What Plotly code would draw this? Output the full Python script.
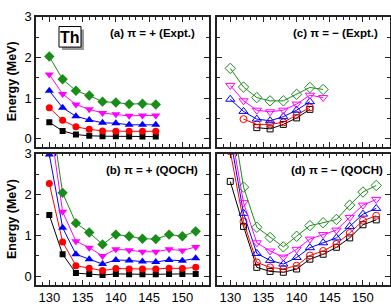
import plotly.graph_objects as go

# ---------------- data ----------------
x_a = [130, 132, 134, 136, 138, 140, 142, 144, 146]
a_black = [0.40, 0.19, 0.10, 0.07, 0.06, 0.06, 0.05, 0.05, 0.05]
a_red = [0.76, 0.45, 0.29, 0.23, 0.19, 0.18, 0.18, 0.18, 0.18]
a_blue = [1.18, 0.76, 0.55, 0.46, 0.39, 0.38, 0.34, 0.34, 0.34]
a_magenta = [1.58, 1.10, 0.84, 0.72, 0.63, 0.60, 0.56, 0.57, 0.57]
a_green = [2.02, 1.46, 1.18, 1.06, 0.91, 0.89, 0.85, 0.86, 0.84]

x_c_black = [134, 136, 138, 140, 142]
c_black = [0.27, 0.24, 0.35, 0.51, 0.72]
x_c_red = [132, 134, 136, 138, 140, 142]
c_red = [0.48, 0.35, 0.35, 0.40, 0.58, 0.77]
x_c_blue = [130, 132, 134, 136, 138, 140, 142]
c_blue = [0.97, 0.67, 0.48, 0.44, 0.54, 0.70, 0.91]
x_c_mg = [130, 132, 134, 136, 138, 140, 142, 144]
c_magenta = [1.31, 0.93, 0.70, 0.66, 0.70, 0.85, 1.07, 1.01]
c_green = [1.73, 1.27, 1.01, 0.93, 0.93, 1.09, 1.26, 1.21]

x_q = [130, 132, 134, 136, 138, 140, 142, 144, 146, 148, 150, 152]
b_black = [1.50, 0.54, 0.08, 0.06, 0.03, 0.06, 0.05, 0.05, 0.05, 0.06, 0.06, 0.06]
b_red = [2.27, 0.84, 0.26, 0.20, 0.14, 0.19, 0.18, 0.18, 0.18, 0.20, 0.19, 0.22]
b_blue = [2.98, 1.19, 0.54, 0.42, 0.30, 0.40, 0.39, 0.36, 0.35, 0.40, 0.38, 0.44]
b_magenta = [3.85, 1.58, 0.86, 0.70, 0.50, 0.66, 0.64, 0.60, 0.60, 0.66, 0.63, 0.72]
b_green = [4.25, 2.04, 1.30, 1.07, 0.78, 1.02, 0.98, 0.92, 0.91, 1.02, 0.98, 1.10]

d_black = [2.32, 1.22, 0.22, 0.12, 0.10, 0.18, 0.42, 0.54, 0.71, 0.94, 1.26, 1.38]
d_red = [3.05, 1.34, 0.34, 0.22, 0.18, 0.26, 0.51, 0.62, 0.79, 1.06, 1.36, 1.48]
d_blue = [3.40, 1.54, 0.56, 0.39, 0.30, 0.46, 0.70, 0.82, 0.94, 1.22, 1.52, 1.66]
d_magenta = [3.65, 1.80, 0.82, 0.62, 0.47, 0.66, 0.91, 1.02, 1.13, 1.44, 1.74, 1.88]
d_green = [4.20, 2.18, 1.20, 0.95, 0.72, 0.98, 1.24, 1.31, 1.39, 1.74, 2.06, 2.22]

x_ticks = [130, 135, 140, 145, 150]
y_ticks = [0, 1, 2, 3]
panel_labels = ["(a) \u03c0 = + (Expt.)", "(b) \u03c0 = + (QOCH)",
                "(c) \u03c0 = \u2212 (Expt.)", "(d) \u03c0 = \u2212 (QOCH)"]
y_title = "Energy (MeV)"
nucleus = "Th"

# ---------------- styling ----------------
FONT = "Liberation Sans, Arial, sans-serif"
BLACK, RED, BLUE, MAG, GREEN = "#000000", "#ff0000", "#0000ff", "#ff00ff", "#1a8c1a"
W, H = 391, 307

fig = go.Figure()

def add(xs, ys, color, symbol, size, ax, open_=False):
    xa, ya = ax
    fig.add_trace(go.Scatter(
        x=xs, y=ys, mode="lines+markers", xaxis=xa, yaxis=ya,
        line=dict(color=color, width=1),
        marker=dict(symbol=symbol + ("-open" if open_ else ""), size=size, color=color,
                    line=dict(color=color, width=1 if open_ else 0)),
        showlegend=False, cliponaxis=True))

A = ("x", "y"); B = ("x2", "y2"); C = ("x3", "y3"); D = ("x4", "y4")
sym = [("square", 6), ("circle", 7), ("triangle-up", 8), ("triangle-down", 8), ("diamond", 8)]
cols = [BLACK, RED, BLUE, MAG, GREEN]

for (s, z), c, ys in zip(sym, cols, [a_black, a_red, a_blue, a_magenta, a_green]):
    add(x_a, ys, c, s, z, A)
for (s, z), c, ys in zip(sym, cols, [b_black, b_red, b_blue, b_magenta, b_green]):
    add(x_q, ys, c, s, z, B)
for (s, z), c, xs, ys in zip(sym, cols, [x_c_black, x_c_red, x_c_blue, x_c_mg, x_c_mg],
                             [c_black, c_red, c_blue, c_magenta, c_green]):
    add(xs, ys, c, s, z, C, open_=True)
for (s, z), c, ys in zip(sym, cols, [d_black, d_red, d_blue, d_magenta, d_green]):
    add(x_q, ys, c, s, z, D, open_=True)

def px_x(p):
    return p / W

def px_y(p):
    return 1 - p / H

left_dom = [px_x(36), px_x(209)]
right_dom = [px_x(217), px_x(389.5)]
top_dom = [px_y(143), px_y(10)]
bot_dom = [px_y(284), px_y(150)]

def xaxis(dom, anchor, labels):
    return dict(domain=dom, anchor=anchor, range=[128, 154], tickvals=x_ticks,
                showticklabels=labels, ticks="inside", ticklen=5, tickwidth=1, tickcolor="#222",
                minor=dict(dtick=1, tick0=0, ticks="inside", ticklen=3, tickwidth=1, tickcolor="#222"),
                showline=True, linecolor="#222", linewidth=1.5, mirror="allticks",
                showgrid=False, zeroline=False,
                tickfont=dict(family=FONT, size=13, color="#000"))

def yaxis(dom, anchor, labels):
    return dict(domain=dom, anchor=anchor, range=[-0.2, 3.0], tickvals=y_ticks,
                showticklabels=labels, ticks="inside", ticklen=5, tickwidth=1, tickcolor="#222",
                minor=dict(dtick=0.5, tick0=0, ticks="inside", ticklen=3, tickwidth=1, tickcolor="#222"),
                showline=True, linecolor="#222", linewidth=1.5, mirror="allticks",
                showgrid=False, zeroline=False,
                tickfont=dict(family=FONT, size=13, color="#000"))

fig.update_layout(
    width=W, height=H, margin=dict(l=0, r=0, t=0, b=0),
    paper_bgcolor="white", plot_bgcolor="white",
    xaxis=xaxis(left_dom, "y", False), yaxis=yaxis(top_dom, "x", True),
    xaxis2=xaxis(left_dom, "y2", True), yaxis2=yaxis(bot_dom, "x2", True),
    xaxis3=xaxis(right_dom, "y3", False), yaxis3=yaxis(top_dom, "x3", False),
    xaxis4=xaxis(right_dom, "y4", True), yaxis4=yaxis(bot_dom, "x4", False),
)

# panel labels
pos = [(px_x(197), px_y(27)), (px_x(200), px_y(167)), (px_x(380), px_y(27)), (px_x(385), px_y(167))]
for t, (xx, yy) in zip(panel_labels, pos):
    fig.add_annotation(text="<b>" + t + "</b>", x=xx, y=yy, xref="paper", yref="paper",
                       xanchor="right", yanchor="middle", showarrow=False,
                       font=dict(family=FONT, size=11.5, color="#000"))

# y titles
for yy in [px_y(76), px_y(217)]:
    fig.add_annotation(text="<b>" + y_title + "</b>", x=px_x(12), y=yy, xref="paper", yref="paper",
                       xanchor="center", yanchor="middle", showarrow=False, textangle=-90,
                       font=dict(family=FONT, size=12.5, color="#000"))

# nucleus box with shadow
fig.add_shape(type="rect", xref="paper", yref="paper", x0=px_x(62), x1=px_x(84),
              y0=px_y(44), y1=px_y(23), fillcolor="#999", line=dict(width=0))
fig.add_shape(type="rect", xref="paper", yref="paper", x0=px_x(59), x1=px_x(81),
              y0=px_y(41), y1=px_y(20), fillcolor="white", line=dict(color="#000", width=1))
fig.add_annotation(text="<b>" + nucleus + "</b>", x=px_x(70), y=px_y(31), xref="paper", yref="paper",
                   xanchor="center", yanchor="middle", showarrow=False,
                   font=dict(family=FONT, size=16, color="#000"))

fig.write_html("out.html", config={"displayModeBar": False},
               post_script="document.body.style.margin='0';document.body.style.overflow='hidden';")
